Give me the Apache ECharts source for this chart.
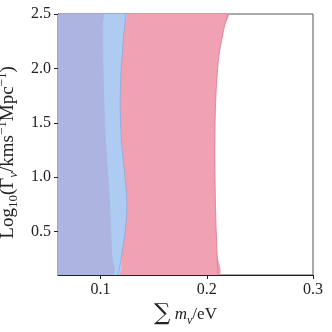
<!DOCTYPE html>
<html>
<head>
<meta charset="utf-8">
<script src="https://cdn.jsdelivr.net/npm/echarts@6/dist/echarts.min.js"></script>
<style>
  html, body { margin: 0; padding: 0; background: #fff; }
  #chart { width: 332px; height: 332px; }
</style>
</head>
<body>
<div id="chart"></div>
<script>
// log10(Gamma) levels where the contour edges were read
var gammaLevels = [0.1, 0.3, 0.5, 0.7, 0.9, 1.1, 1.3, 1.5, 1.7, 1.9, 2.1, 2.3, 2.4, 2.5]
// sum of neutrino masses at the right edge of each region
var pinkEdge   = [0.2105, 0.2097, 0.2089, 0.2083, 0.2079, 0.2076, 0.2076, 0.2078, 0.2084, 0.2095, 0.2112, 0.2148, 0.2170, 0.2198]
var blueEdge   = [0.1166, 0.1202, 0.1232, 0.1248, 0.1240, 0.1220, 0.1200, 0.1189, 0.1185, 0.1190, 0.1202, 0.1218, 0.1228, 0.1238]
var purpleEdge = [0.1113, 0.1105, 0.1097, 0.1088, 0.1078, 0.1063, 0.1050, 0.1040, 0.1032, 0.1026, 0.1022, 0.1020, 0.1019, 0.1019]
var xTicks = [0.1, 0.2, 0.3]
var yTicks = [0.5, 1.0, 1.5, 2.0, 2.5]
var xMin = 0.06, xMax = 0.3, yMin = 0.1, yMax = 2.5

var serif = 'Liberation Serif'

function regionSeries(name, edge, fill, stroke) {
  var data = gammaLevels.map(function (g, i) { return [edge[i], g] })
  return {
    name: name,
    type: 'custom',
    silent: true,
    clip: true,
    data: data,
    renderItem: function (params, api) {
      if (params.dataIndex !== 0) return null
      var edgePts = data.map(function (d) { return api.coord(d) })
      var pts = [api.coord([xMin, gammaLevels[0]])].concat(edgePts)
      pts.push(api.coord([xMin, gammaLevels[gammaLevels.length - 1]]))
      return {
        type: 'group',
        children: [
          { type: 'polygon', shape: { points: pts, smooth: 0.35 }, style: { fill: fill } },
          { type: 'polyline', shape: { points: edgePts, smooth: 0.35 }, style: { fill: null, stroke: stroke, lineWidth: 0.8 } }
        ]
      }
    }
  }
}

var chart = echarts.init(document.getElementById('chart'))
chart.setOption({
  animation: false,
  grid: {
    left: 58, right: 19, top: 14, bottom: 57,
    outerBoundsMode: 'none', containLabel: false,
    show: true, borderColor: '#555', borderWidth: 1
  },
  xAxis: {
    type: 'value', min: xMin, max: xMax,
    splitLine: { show: false },
    axisLine: { show: true, lineStyle: { color: '#222' } },
    axisTick: { show: true, length: 4, customValues: xTicks, lineStyle: { color: '#222' } },
    axisLabel: {
      customValues: xTicks, margin: 7, color: '#222', fontFamily: serif, fontSize: 16,
      formatter: function (v) { return v.toFixed(1) }
    },
    name: '{s|∑}{m| m}{sub|ν}{r|/eV}',
    nameLocation: 'middle', nameGap: 27,
    nameTextStyle: {
      rich: {
        s: { fontFamily: 'DejaVu Serif', fontSize: 23, color: '#222', lineHeight: 24 },
        m: { fontFamily: serif, fontStyle: 'italic', fontSize: 17, color: '#222', lineHeight: 24 },
        sub: { fontFamily: serif, fontStyle: 'italic', fontSize: 12, color: '#222', verticalAlign: 'bottom', lineHeight: 20 },
        r: { fontFamily: serif, fontSize: 17, color: '#222', lineHeight: 24 }
      }
    }
  },
  yAxis: {
    type: 'value', min: yMin, max: yMax,
    splitLine: { show: false },
    axisLine: { show: true, lineStyle: { color: '#222' } },
    axisTick: { show: true, length: 4, customValues: yTicks, lineStyle: { color: '#222' } },
    axisLabel: {
      customValues: yTicks, margin: 7, color: '#222', fontFamily: serif, fontSize: 16,
      formatter: function (v) { return v.toFixed(1) }
    },
    name: '{r|Log}{sub|10}{r|(Γ}{subi|ν}{r|/kms}{sup|−1}{r|Mpc}{sup|−1}{r|)}',
    nameLocation: 'middle', nameGap: 24, nameRotate: 90,
    nameTextStyle: {
      padding: [0, 16, 0, 0],
      rich: {
        r: { fontFamily: serif, fontSize: 19, color: '#222', lineHeight: 24 },
        sub: { fontFamily: serif, fontSize: 13, color: '#222', verticalAlign: 'bottom', lineHeight: 20 },
        subi: { fontFamily: serif, fontStyle: 'italic', fontSize: 13, color: '#222', verticalAlign: 'bottom', lineHeight: 20 },
        sup: { fontFamily: serif, fontSize: 13, color: '#222', verticalAlign: 'top', lineHeight: 20 }
      }
    }
  },
  series: [
    regionSeries('pink', pinkEdge, '#f0a1b2', '#e6708c'),
    regionSeries('blue', blueEdge, '#aecbf1', '#86a9e6'),
    regionSeries('purple', purpleEdge, '#adb4e0', '#adb4e0')
  ]
})
</script>
</body>
</html>
